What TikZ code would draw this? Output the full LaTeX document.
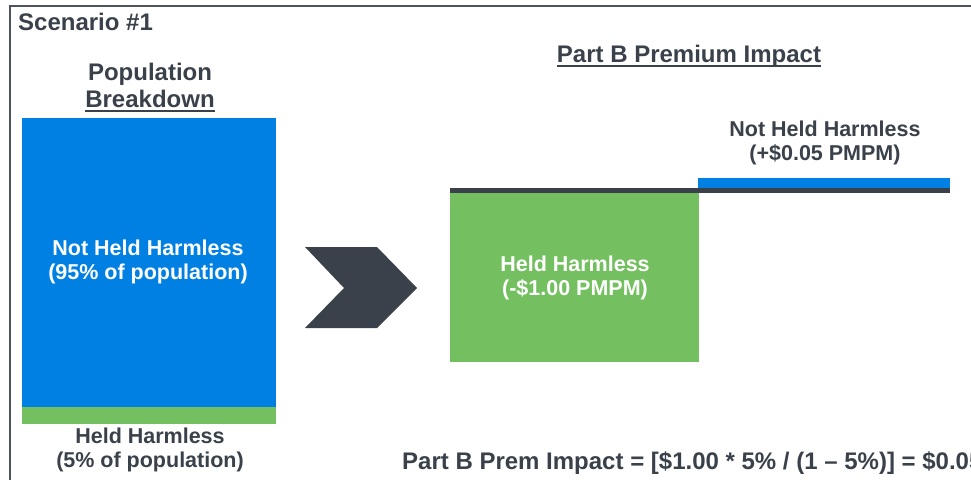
\documentclass[tikz,border=0pt]{standalone}
\usepackage{fontspec}
\setmainfont{Liberation Sans}
\usetikzlibrary{positioning}
\definecolor{hhgreen}{RGB}{116,191,96}
\definecolor{nhblue}{RGB}{0,128,226}
\definecolor{slate}{RGB}{58,65,75}
\definecolor{framegray}{RGB}{78,83,92}

\begin{document}
\begin{tikzpicture}[x=1pt,y=-1pt,
    lbl/.style={font=\bfseries\fontsize{21.5}{23.5}\selectfont, align=center, text=slate, inner sep=0pt},
    wlbl/.style={lbl, text=white},
    head/.style={font=\bfseries\fontsize{24}{27}\selectfont, text=slate, inner sep=0pt}]
    \useasboundingbox (0,0) rectangle (971,479);
    \clip (0,0) rectangle (971,479);
    \draw[framegray, line width=2pt] (10,480) -- (10,6) -- (972,6);

    \node[head, anchor=west] (scen) at (18,22) {Scenario \#1};
    \node[head] (pop) at (150,74) {Population};
    \node[head] (brk) at (150,99) {Breakdown};
    \draw[slate, line width=1.8pt] ([yshift=-3.5pt]brk.base west) -- ([yshift=-3.5pt]brk.base east);

    % population bar
    \fill[nhblue] (22,118) rectangle (276,407);
    \fill[hhgreen] (22,407) rectangle (276,424);
    \node[wlbl] (nhh) at (148,262) {Not Held Harmless\\(95\% of population)};
    \node[lbl] (hh) at (150,450) {Held Harmless\\(5\% of population)};

    % chevron
    \fill[slate] (305,247) -- (377,247) -- (417,288) -- (377,328) -- (305,328) -- (344,288) -- cycle;

    % premium impact
    \node[head] (partb) at (689,56) {Part B Premium Impact};
    \draw[slate, line width=1.8pt] ([yshift=-3.5pt]partb.base west) -- ([yshift=-3.5pt]partb.base east);
    \fill[hhgreen] (450,192) rectangle (699,362);
    \fill[nhblue] (698,178) rectangle (950,190);
    \fill[slate] (450,188) rectangle (950,193);
    \node[wlbl] (hhimp) at (575,278) {Held Harmless\\(-\$1.00 PMPM)};
    \node[lbl] (nhimp) at (825,143) {Not Held Harmless\\(+\$0.05 PMPM)};

    \node[head, anchor=west] (calc) at (402,463) {Part B Prem Impact = [\$1.00 * 5\% / (1 – 5\%)] = \$0.05};
\end{tikzpicture}
\end{document}
